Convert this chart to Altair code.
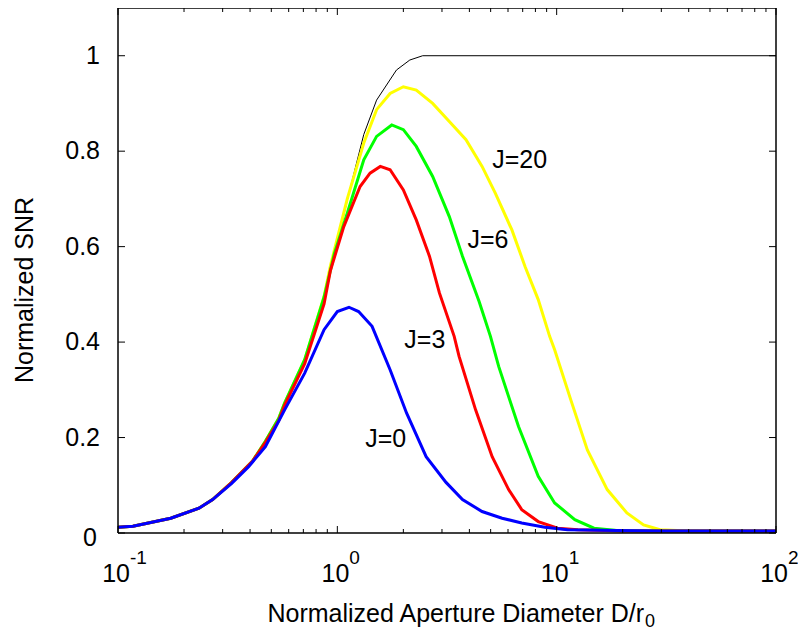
import altair as alt
import pandas as pd

# ---- data (x = D/r0, y = normalized SNR) ----
ideal_x = [0.1, 0.117, 0.174, 0.234, 0.27, 0.33, 0.41, 0.47, 0.54, 0.575, 0.71, 0.87, 1.0, 1.15, 1.32, 1.51, 1.86, 2.14, 2.45, 100]
ideal_y = [0.012, 0.014, 0.031, 0.052, 0.07, 0.106, 0.15, 0.192, 0.24, 0.272, 0.363, 0.496, 0.61, 0.726, 0.835, 0.907, 0.97, 0.991, 1.0, 1.0]

j0_x = [0.1, 0.117, 0.174, 0.234, 0.27, 0.33, 0.394, 0.47, 0.575, 0.71, 0.87, 1.0, 1.13, 1.25, 1.44, 1.74, 2.07, 2.54, 3.13, 3.72, 4.57, 5.64, 6.93, 8.83, 11.2, 18.8, 30, 100]
j0_y = [0.012, 0.014, 0.031, 0.052, 0.07, 0.104, 0.139, 0.181, 0.258, 0.335, 0.426, 0.464, 0.473, 0.464, 0.433, 0.342, 0.251, 0.16, 0.106, 0.07, 0.045, 0.031, 0.021, 0.012, 0.007, 0.005, 0.004, 0.004]

j3_x = [0.1, 0.117, 0.174, 0.234, 0.27, 0.33, 0.41, 0.47, 0.54, 0.575, 0.71, 0.87, 0.93, 1.07, 1.27, 1.41, 1.57, 1.74, 2.0, 2.29, 2.63, 2.92, 3.41, 3.59, 4.27, 5.08, 6.04, 6.93, 8.24, 10.1, 12.5, 20, 100]
j3_y = [0.012, 0.014, 0.031, 0.052, 0.07, 0.106, 0.15, 0.19, 0.235, 0.268, 0.355, 0.48, 0.55, 0.642, 0.726, 0.754, 0.768, 0.761, 0.719, 0.656, 0.58, 0.503, 0.412, 0.37, 0.258, 0.16, 0.091, 0.049, 0.024, 0.01, 0.007, 0.004, 0.004]

j6_x = [0.1, 0.117, 0.174, 0.234, 0.27, 0.33, 0.41, 0.47, 0.54, 0.575, 0.71, 0.87, 0.97, 1.11, 1.32, 1.51, 1.77, 2.0, 2.29, 2.72, 3.24, 3.72, 4.43, 4.99, 5.44, 6.7, 8.24, 9.79, 12.1, 14.8, 18.8, 30, 100]
j6_y = [0.012, 0.014, 0.031, 0.052, 0.07, 0.106, 0.15, 0.192, 0.24, 0.272, 0.363, 0.494, 0.586, 0.67, 0.782, 0.831, 0.855, 0.845, 0.81, 0.747, 0.663, 0.58, 0.485, 0.412, 0.349, 0.223, 0.119, 0.063, 0.028, 0.01, 0.005, 0.004, 0.004]

j20_x = [0.1, 0.117, 0.174, 0.234, 0.27, 0.33, 0.41, 0.47, 0.54, 0.575, 0.71, 0.87, 0.93, 1.11, 1.32, 1.51, 1.74, 2.0, 2.29, 2.72, 3.24, 3.86, 4.57, 5.25, 6.25, 7.18, 8.24, 9.29, 9.79, 11.6, 13.8, 17.0, 20.9, 24.9, 29.6, 40, 100]
j20_y = [0.012, 0.014, 0.031, 0.052, 0.07, 0.106, 0.15, 0.192, 0.24, 0.272, 0.363, 0.496, 0.56, 0.70, 0.817, 0.887, 0.921, 0.935, 0.928, 0.9, 0.862, 0.824, 0.768, 0.712, 0.635, 0.558, 0.489, 0.412, 0.384, 0.279, 0.174, 0.091, 0.042, 0.017, 0.007, 0.004, 0.004]

series_names = ["ideal", "J=20", "J=6", "J=3", "J=0"]
series_colors = ["#000000", "#FFFF00", "#00FF00", "#FF0000", "#0000FF"]
series_widths = [1, 3, 3, 3, 3]
series_data = [(ideal_x, ideal_y), (j20_x, j20_y), (j6_x, j6_y), (j3_x, j3_y), (j0_x, j0_y)]

label_text = ["J=20", "J=6", "J=3", "J=0"]
label_x = [5.08, 3.92, 2.02, 1.34]
label_y = [0.782, 0.613, 0.404, 0.197]

y_tick_vals = [0, 0.2, 0.4, 0.6, 0.8, 1.0]
y_tick_text = ["0", "0.2", "0.4", "0.6", "0.8", "1"]
x_major_vals = [0.1, 1, 10, 100]
x_exponents = ["-1", "0", "1", "2"]
x_minor_vals = [0.2, 0.3, 0.4, 0.5, 0.6, 0.7, 0.8, 0.9,
                2, 3, 4, 5, 6, 7, 8, 9,
                20, 30, 40, 50, 60, 70, 80, 90]

W, H = 658, 525
FONT = "Liberation Sans"

rows = []
for name, (xs, ys) in zip(series_names, series_data):
    for xv, yv in zip(xs, ys):
        rows.append({"x": xv, "y": yv, "series": name})
lines_df = pd.DataFrame(rows)

xscale = alt.Scale(type="log", domain=[0.1, 100], nice=False)
yscale = alt.Scale(domain=[0, 1.1], nice=False, zero=False)

base = alt.Chart(lines_df)

layers = []
for name, col, w in zip(series_names, series_colors, series_widths):
    layers.append(
        base.transform_filter(alt.datum.series == name).mark_line(
            color=col, strokeWidth=w, clip=True
        ).encode(
            x=alt.X("x:Q", scale=xscale, axis=None),
            y=alt.Y("y:Q", scale=yscale, axis=None),
            order=alt.Order("x:Q"),
        )
    )

# curve labels
lab_df = pd.DataFrame({"x": label_x, "y": label_y, "t": label_text})
labels = alt.Chart(lab_df).mark_text(
    align="left", baseline="middle", fontSize=25, font=FONT, color="black"
).encode(x=alt.X("x:Q", scale=xscale, axis=None), y=alt.Y("y:Q", scale=yscale, axis=None), text="t:N")

# frame
one = pd.DataFrame({"k": [0]})
frame = [
    alt.Chart(one).mark_rule(color="black", strokeWidth=1.5).encode(
        x=alt.value(0), x2=alt.value(W), y=alt.value(0)),
    alt.Chart(one).mark_rule(color="black", strokeWidth=1.5).encode(
        x=alt.value(0), x2=alt.value(W), y=alt.value(H)),
    alt.Chart(one).mark_rule(color="black", strokeWidth=1.5).encode(
        y=alt.value(0), y2=alt.value(H), x=alt.value(0)),
    alt.Chart(one).mark_rule(color="black", strokeWidth=1.5).encode(
        y=alt.value(0), y2=alt.value(H), x=alt.value(W)),
]

# ticks (inward, on all four sides)
yt_df = pd.DataFrame({"v": y_tick_vals, "t": y_tick_text})
ytl = alt.Chart(yt_df).mark_rule(color="black", strokeWidth=1).encode(
    y=alt.Y("v:Q", scale=yscale, axis=None), x=alt.value(0), x2=alt.value(7))
ytr = alt.Chart(yt_df).mark_rule(color="black", strokeWidth=1).encode(
    y=alt.Y("v:Q", scale=yscale, axis=None), x=alt.value(W - 7), x2=alt.value(W))
ylab = alt.Chart(yt_df).transform_filter(alt.datum.v > 0).mark_text(
    align="right", baseline="middle", fontSize=25, font=FONT, color="black"
).encode(y=alt.Y("v:Q", scale=yscale, axis=None), x=alt.value(-18), text="t:N")
ylab0 = alt.Chart(yt_df).transform_filter(alt.datum.v == 0).mark_text(
    align="right", baseline="middle", dy=5, fontSize=25, font=FONT, color="black"
).encode(y=alt.Y("v:Q", scale=yscale, axis=None), x=alt.value(-21), text="t:N")

xm_df = pd.DataFrame({"v": x_major_vals, "e": x_exponents})
xmb = alt.Chart(xm_df).mark_rule(color="black", strokeWidth=1).encode(
    x=alt.X("v:Q", scale=xscale, axis=None), y=alt.value(H - 7), y2=alt.value(H))
xmt = alt.Chart(xm_df).mark_rule(color="black", strokeWidth=1).encode(
    x=alt.X("v:Q", scale=xscale, axis=None), y=alt.value(0), y2=alt.value(7))

xn_df = pd.DataFrame({"v": x_minor_vals})
xnb = alt.Chart(xn_df).mark_rule(color="black", strokeWidth=1).encode(
    x=alt.X("v:Q", scale=xscale, axis=None), y=alt.value(H - 4), y2=alt.value(H))
xnt = alt.Chart(xn_df).mark_rule(color="black", strokeWidth=1).encode(
    x=alt.X("v:Q", scale=xscale, axis=None), y=alt.value(0), y2=alt.value(4))

# x tick labels: 10 with superscript exponent
ten = alt.Chart(xm_df).mark_text(
    align="right", baseline="alphabetic", dx=12, fontSize=25, font=FONT, color="black"
).encode(x=alt.X("v:Q", scale=xscale, axis=None), y=alt.value(H + 49), text=alt.value("10"))
expo = alt.Chart(xm_df).mark_text(
    align="left", baseline="alphabetic", dx=12, fontSize=19, font=FONT, color="black"
).encode(x=alt.X("v:Q", scale=xscale, axis=None), y=alt.value(H + 31), text="e:N")

# axis titles
xtitle = alt.Chart(pd.DataFrame({"t": ["Normalized Aperture Diameter D/r"]})).mark_text(
    align="right", baseline="alphabetic", fontSize=25, font=FONT, color="black"
).encode(x=alt.value(526), y=alt.value(H + 89), text="t:N")
xsub = alt.Chart(pd.DataFrame({"t": ["0"]})).mark_text(
    align="left", baseline="alphabetic", fontSize=18, font=FONT, color="black"
).encode(x=alt.value(527), y=alt.value(H + 94), text="t:N")
ytitle = alt.Chart(pd.DataFrame({"t": ["Normalized SNR"]})).mark_text(
    align="center", baseline="alphabetic", angle=270, fontSize=25, font=FONT, color="black"
).encode(x=alt.value(-85), y=alt.value(282), text="t:N")

chart = alt.layer(
    *layers, labels, *frame, ytl, ytr, ylab, ylab0, xmb, xmt, xnb, xnt, ten, expo, xtitle, xsub, ytitle
).properties(
    width=W, height=H,
    autosize=alt.AutoSizeParams(type="none"),
    padding={"left": 110, "top": 0, "right": 22, "bottom": 99},
).configure(
    font=FONT, background="white",
    view=alt.ViewConfig(stroke=None),
)

chart.save("out.html", embed_options={"renderer": "svg", "actions": False})
